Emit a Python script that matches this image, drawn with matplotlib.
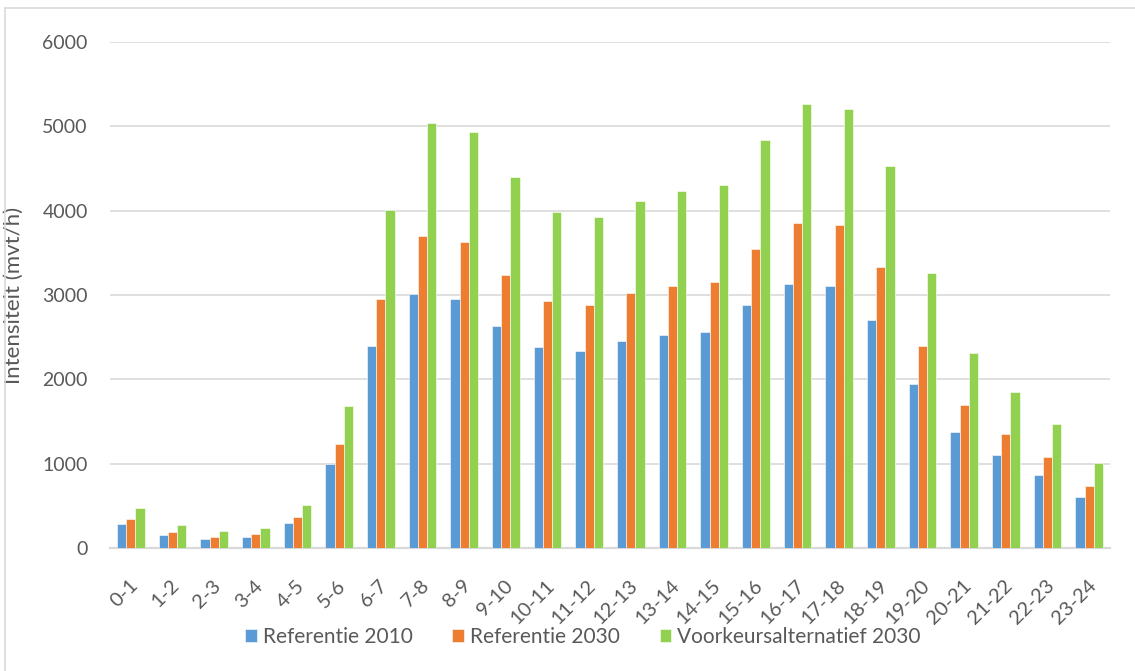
import numpy as np
import matplotlib
matplotlib.use("Agg")
import matplotlib.pyplot as plt
import matplotlib.transforms as mtransforms
from matplotlib.patches import Rectangle

## hourly traffic intensity per scenario (mvt/h)
hours = ['0-1', '1-2', '2-3', '3-4', '4-5', '5-6', '6-7', '7-8', '8-9', '9-10',
         '10-11', '11-12', '12-13', '13-14', '14-15', '15-16', '16-17', '17-18',
         '18-19', '19-20', '20-21', '21-22', '22-23', '23-24']
ref2010 = [285, 152, 112, 132, 292, 1000, 2400, 3008, 2948, 2628,
           2380, 2340, 2452, 2524, 2564, 2876, 3136, 3111,
           2704, 1945, 1380, 1103, 870, 605]
ref2030 = [344, 188, 136, 164, 364, 1228, 2952, 3696, 3624, 3232,
           2924, 2876, 3020, 3104, 3152, 3540, 3852, 3827,
           3328, 2392, 1696, 1356, 1079, 739]
vka2030 = [480, 268, 196, 236, 508, 1680, 4008, 5040, 4936, 4404,
           3988, 3928, 4112, 4232, 4304, 4836, 5260, 5210,
           4534, 3265, 2317, 1850, 1467, 1012]
series_names = ['Referentie 2010', 'Referentie 2030', 'Voorkeursalternatief 2030']

colors = ['#5B9BD5', '#ED7D31', '#92D050']
textcol = '#595959'
gridcol = '#D9D9D9'

plt.rcParams['font.family'] = ['Lato', 'DejaVu Sans']

fig = plt.figure(figsize=(11.35, 6.71), dpi=100)
W, H = 1135, 671
ax = fig.add_axes([110/W, 1-548/H, 1000/W, (548-42)/H])

x = np.arange(len(hours))
bw = 0.223
for i, (vals, name) in enumerate(zip([ref2010, ref2030, vka2030], series_names)):
    ax.bar(x + (i-1)*bw, vals, width=bw, color=colors[i], label=name,
           edgecolor='white', linewidth=0.4, zorder=3)

ax.set_xlim(-0.5, len(hours)-0.5)
ax.set_ylim(0, 6000)
ax.set_yticks(range(0, 6001, 1000))
ax.yaxis.grid(True, color=gridcol, linewidth=1.2, zorder=0)
ax.set_axisbelow(True)
for s in ['left', 'right', 'top']:
    ax.spines[s].set_visible(False)
ax.spines['bottom'].set_color(gridcol)
ax.spines['bottom'].set_linewidth(1.6)
ax.tick_params(axis='both', length=0, labelsize=14, labelcolor=textcol)
ax.tick_params(axis='y', pad=16)
ax.set_xticks(x)
ax.set_xticklabels(hours, rotation=45, ha='right', va='center',
                   rotation_mode='anchor', fontsize=14.5)
ax.tick_params(axis='x', pad=25)
# nudge the slanted hour labels a little to the right
shift = mtransforms.ScaledTranslation(4/100, 0, fig.dpi_scale_trans)
for lab in ax.get_xticklabels():
    lab.set_transform(lab.get_transform() + shift)

ax.set_ylabel('Intensiteit (mvt/h)', fontsize=16, color=textcol)
ax.yaxis.set_label_coords(-0.086, 0.5)

leg = fig.legend(loc='center', bbox_to_anchor=(583/W, 1-637/H), ncol=3,
                 frameon=False, fontsize=15, handlelength=0.55, handleheight=0.55,
                 handletextpad=0.3, columnspacing=1.9, labelcolor=textcol)

# chart area border
fig.patches.append(Rectangle((5/W, -0.1), 1.2, 1-8/H+0.1, transform=fig.transFigure,
                             fill=False, edgecolor=gridcol, linewidth=1.2))

fig.savefig('out.png', dpi=100)
